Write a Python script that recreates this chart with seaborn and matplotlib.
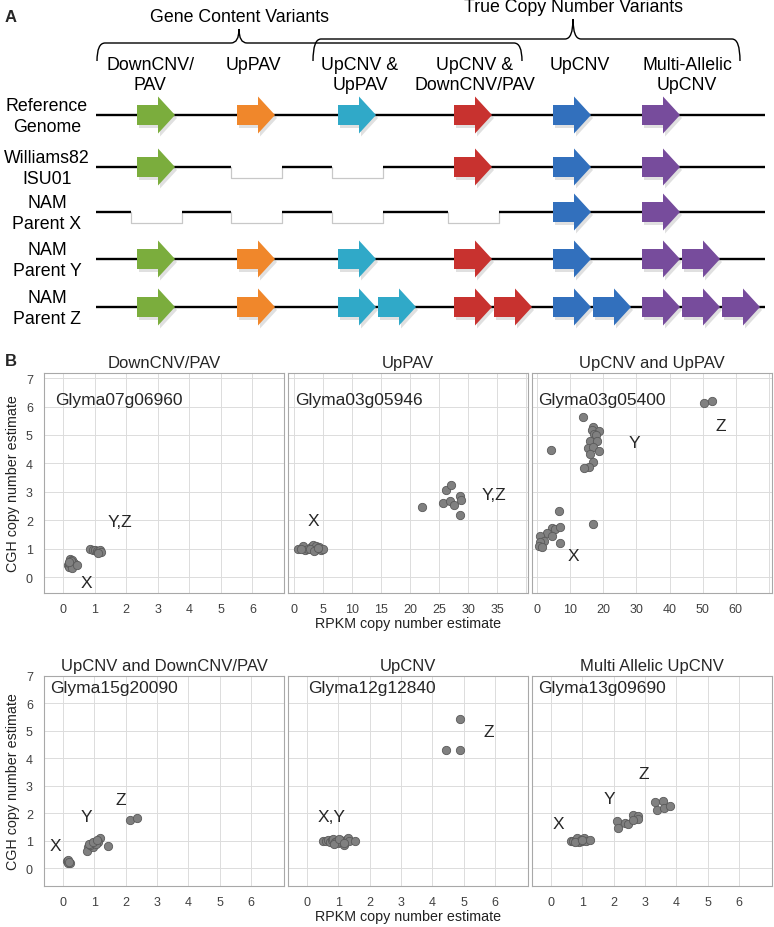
import matplotlib
matplotlib.use("Agg")
import matplotlib.pyplot as plt
from matplotlib.patches import Polygon, PathPatch
from matplotlib.path import Path
import seaborn as sns

sns.set_theme(style="white")
plt.rcParams['font.family'] = ['Liberation Sans', 'DejaVu Sans']

# ---------------- panel A data ----------------
variant_types = ["DownCNV/\nPAV", "UpPAV", "UpCNV &\nUpPAV", "UpCNV &\nDownCNV/PAV",
                 "UpCNV", "Multi-Allelic\nUpCNV"]
variant_colors = ["#7bad3d", "#f0872b", "#30a9c8", "#c8322f", "#3270bd", "#774c9c"]
genotypes = ["Reference\nGenome", "Williams82\nISU01", "NAM\nParent X",
             "NAM\nParent Y", "NAM\nParent Z"]
copy_counts = [[1, 1, 1, 1, 1, 1],
               [1, 0, 0, 1, 1, 1],
               [0, 0, 0, 0, 1, 1],
               [1, 1, 1, 1, 1, 2],
               [1, 1, 2, 2, 2, 3]]
group_labels = ["Gene Content Variants", "True Copy Number Variants"]

# ---------------- panel B data ----------------
titles = ["DownCNV/PAV", "UpPAV", "UpCNV and UpPAV",
          "UpCNV and DownCNV/PAV", "UpCNV", "Multi Allelic UpCNV"]
genes = ["Glyma07g06960", "Glyma03g05946", "Glyma03g05400",
         "Glyma15g20090", "Glyma12g12840", "Glyma13g09690"]

p1_x = [0.15, 0.2, 0.22, 0.25, 0.28, 0.3, 0.32, 0.35, 0.2, 0.25, 0.3, 0.45, 0.18,
        0.85, 0.95, 1.02, 1.08, 1.12, 1.18, 1.2, 1.1]
p1_y = [0.42, 0.35, 0.62, 0.5, 0.38, 0.6, 0.42, 0.5, 0.48, 0.55, 0.32, 0.42, 0.52,
        1.0, 0.97, 0.95, 0.92, 0.88, 0.96, 0.88, 0.85]

p2_x = [0.8, 1.5, 2.0, 2.5, 3.0, 3.3, 3.6, 3.8, 4.0, 4.3, 4.6, 5.0, 2.8, 3.5, 4.2, 1.2,
        22.0, 25.6, 26.2, 27.0, 26.8, 27.5, 28.6, 28.7, 28.6]
p2_y = [0.98, 1.08, 0.95, 1.0, 1.05, 1.12, 0.97, 1.1, 1.0, 1.06, 0.96, 1.0, 0.98, 0.93, 1.02, 1.0,
        2.45, 2.6, 3.07, 3.24, 2.69, 2.54, 2.84, 2.72, 2.18]

p3_x = [13.8, 4.1, 16.8, 16.5, 18.8, 17.1, 17.8, 15.8, 18.2, 15.2, 16.8, 18.8, 15.8, 16.8,
        15.5, 14.2, 50.5, 52.9, 6.7, 16.8, 4.4, 5.4, 6.9, 2.9, 4.4, 0.9, 2.1, 0.9, 6.9, 0.4, 1.4]
p3_y = [5.64, 4.46, 5.27, 5.18, 5.15, 5.03, 5.0, 4.8, 4.78, 4.53, 4.57, 4.45, 4.32, 4.04,
        3.87, 3.83, 6.13, 6.19, 2.31, 1.87, 1.73, 1.69, 1.75, 1.55, 1.45, 1.43, 1.28, 1.22, 1.19, 1.08, 1.05]

p4_x = [0.12, 0.17, 0.22, 0.15, 0.2, 0.8, 0.77, 0.91, 1.02, 1.17, 1.12, 0.96, 0.88, 1.05,
        1.44, 0.85, 0.95, 1.1, 2.13, 2.36]
p4_y = [0.26, 0.2, 0.18, 0.32, 0.22, 0.79, 0.65, 0.89, 0.93, 1.09, 0.97, 0.79, 0.85, 0.9,
        0.83, 0.9, 0.95, 1.02, 1.76, 1.83]

p5_x = [0.52, 0.6, 0.68, 0.75, 0.8, 0.85, 0.9, 0.95, 1.0, 1.05, 1.1, 1.15, 1.2, 1.25, 1.3,
        1.35, 1.55, 0.88, 1.02, 1.18, 4.87, 4.44, 4.87]
p5_y = [1.0, 0.98, 1.02, 0.97, 1.05, 1.08, 0.95, 1.0, 0.92, 1.03, 0.96, 1.0, 0.85, 1.05, 1.12,
        0.98, 1.0, 0.9, 1.06, 0.93, 5.44, 4.31, 4.31]

p6_x = [0.65, 0.72, 0.8, 0.85, 0.9, 0.95, 1.0, 1.05, 1.12, 1.25, 0.78, 0.98,
        2.1, 2.14, 2.38, 2.45, 2.62, 2.77, 2.77, 2.62,
        3.33, 3.39, 3.58, 3.62, 3.81]
p6_y = [0.98, 1.0, 1.03, 1.1, 0.95, 1.05, 0.98, 1.1, 1.0, 1.05, 0.96, 1.02,
        1.71, 1.46, 1.64, 1.6, 1.95, 1.91, 1.8, 1.77,
        2.41, 2.11, 2.47, 2.2, 2.28]

labels = [[("X", 0.75, -0.2), ("Y,Z", 1.8, 1.95)],
          [("X", 3.3, 1.98), ("Y,Z", 34.4, 2.9)],
          [("X", 11, 0.75), ("Y", 29.3, 4.72), ("Z", 55.5, 5.33)],
          [("X", -0.23, 0.85), ("Y", 0.75, 1.88), ("Z", 1.86, 2.5)],
          [("X,Y", 0.79, 1.88), ("Z", 5.8, 4.98)],
          [("X", 0.24, 1.62), ("Y", 1.88, 2.54), ("Z", 2.96, 3.45)]]

xticks = [list(range(0, 7)), list(range(0, 40, 5)), list(range(0, 70, 10)),
          list(range(0, 7)), list(range(0, 7)), list(range(0, 7))]
xgrid = [list(range(0, 7)), list(range(0, 41, 5)), list(range(0, 71, 10)),
         list(range(0, 7)), list(range(0, 7)), list(range(0, 7))]
xlims = [(-0.6, 7.0), (-1.0, 40.3), (-1.6, 71.0),
         (-0.6, 7.05), (-0.6, 7.05), (-0.6, 7.05)]
ylims = [(-0.56, 7.18), (-0.64, 6.81)]

W, H = 774, 928
fig = plt.figure(figsize=(W / 100, H / 100), dpi=100)

# ---------------- panel A (drawn in pixel coordinates) ----------------
axA = fig.add_axes([0, 0, 1, 1])
axA.set_xlim(0, W)
axA.set_ylim(H, 0)
axA.axis("off")

txt = dict(fontsize=12.8, color="black", linespacing=1.25)
axA.text(5, 18, "A", fontsize=12, fontweight="bold", va="center")
axA.text(5, 362, "B", fontsize=12, fontweight="bold", va="center")

# braces
def brace(x0, x1, xt, ytop, ytip, yend, r=8):
    verts = [(x0, yend), (x0, ytop), (x0 + r, ytop),
             (xt - r, ytop), (xt, ytop), (xt, ytip),
             (xt, ytop), (xt + r, ytop),
             (x1 - r, ytop), (x1, ytop), (x1, yend)]
    codes = [Path.MOVETO, Path.CURVE3, Path.CURVE3,
             Path.LINETO, Path.CURVE3, Path.CURVE3,
             Path.CURVE3, Path.CURVE3,
             Path.LINETO, Path.CURVE3, Path.CURVE3]
    axA.add_patch(PathPatch(Path(verts, codes), fill=False, lw=1.0, ec="black"))

brace(97, 522, 239, 44, 30, 62)
brace(313, 740, 573, 40, 20, 62)
axA.text(240, 17, group_labels[0], ha="center", va="center", **txt)
axA.text(573, 8, group_labels[1], ha="center", va="center", **txt)

label_x = [150, 253, 360, 475, 580, 687]
for lx, name in zip(label_x, variant_types):
    axA.text(lx, 57, name, ha="center", va="top", **txt)

col_x = [137, 237, 338, 454, 553, 642]
row_y = [116, 168, 213, 260, 308]
line_x0, line_x1 = 96, 765

def arrow(x0, yc, color):
    pts = [(x0, yc - 10), (x0 + 21, yc - 10), (x0 + 21, yc - 18.5), (x0 + 38, yc),
           (x0 + 21, yc + 18.5), (x0 + 21, yc + 10), (x0, yc + 10)]
    sh = [(px + 2, py + 3) for px, py in pts]
    axA.add_patch(Polygon(sh, closed=True, fc="#999999", ec="none", alpha=0.3, zorder=3))
    axA.add_patch(Polygon(pts, closed=True, fc=color, ec="none", zorder=4))

for ry, gname, counts in zip(row_y, genotypes, copy_counts):
    axA.text(47, ry + 1, gname, ha="center", va="center", **txt)
    gaps = [(col_x[i] - 6, col_x[i] + 45) for i, c in enumerate(counts) if c == 0]
    start = line_x0
    for g0, g1 in gaps:
        axA.plot([start, g0], [ry, ry], color="black", lw=1.7, solid_capstyle="butt", zorder=2)
        axA.plot([g0, g0, g1, g1], [ry, ry + 11, ry + 11, ry], color="#c8c8c8", lw=0.9, zorder=2)
        start = g1
    axA.plot([start, line_x1], [ry, ry], color="black", lw=1.7, solid_capstyle="butt", zorder=2)
    for i, c in enumerate(counts):
        for k in range(c):
            arrow(col_x[i] + 40 * k, ry, variant_colors[i])

# ---------------- panel B ----------------
cols_px = [(44, 284), (288, 528), (532, 772)]
rows_px = [(374, 594), (677, 887)]
gene_x = [0.046, 0.03, 0.025, 0.025, 0.083, 0.025]
gene_y = [0.88, 0.943]
xs = [p1_x, p2_x, p3_x, p4_x, p5_x, p6_x]
ys = [p1_y, p2_y, p3_y, p4_y, p5_y, p6_y]

for i in range(6):
    r, c = divmod(i, 3)
    l, rr = cols_px[c]
    t, b = rows_px[r]
    ax = fig.add_axes([l / W, 1 - b / H, (rr - l) / W, (b - t) / H])
    ax.set_facecolor("white")
    sns.scatterplot(x=xs[i], y=ys[i], ax=ax, color="#808080", edgecolor="#5a5a5a",
                    s=36, linewidth=0.6, zorder=3)
    for gx in xgrid[i]:
        ax.axvline(gx, color="#dcdcdc", lw=0.7, zorder=1)
    for gy in range(0, 8):
        ax.axhline(gy, color="#dcdcdc", lw=0.7, zorder=1)
    ax.set_xlim(*xlims[i])
    ax.set_ylim(*ylims[r])
    ax.set_xticks(xticks[i])
    ax.set_xticklabels([str(v) for v in xticks[i]])
    ax.set_yticks(list(range(0, 8)))
    if c == 0:
        ax.set_yticklabels([str(v) for v in range(0, 8)])
        ax.set_ylabel("CGH copy number estimate", fontsize=10.3, color="#222222")
        ax.yaxis.set_label_coords(-0.098, 0.5)
    else:
        ax.set_yticklabels([])
    if c == 1:
        ax.set_xlabel("RPKM copy number estimate", fontsize=10.3, color="#222222", labelpad=1)
    ax.tick_params(axis="both", length=0, labelsize=9, labelcolor="#404040")
    ax.tick_params(axis="x", pad=7)
    ax.tick_params(axis="y", pad=8)
    for sp in ax.spines.values():
        sp.set_color("#a8a8a8")
        sp.set_linewidth(0.8)
    ax.set_title(titles[i], fontsize=12, pad=4)
    ax.text(gene_x[i], gene_y[r], genes[i], transform=ax.transAxes,
            ha="left", va="center", fontsize=12.5)
    for lab, lx, ly in labels[i]:
        ax.text(lx, ly, lab, ha="center", va="center", fontsize=12.5, zorder=4)

fig.savefig("out.png", dpi=100)
